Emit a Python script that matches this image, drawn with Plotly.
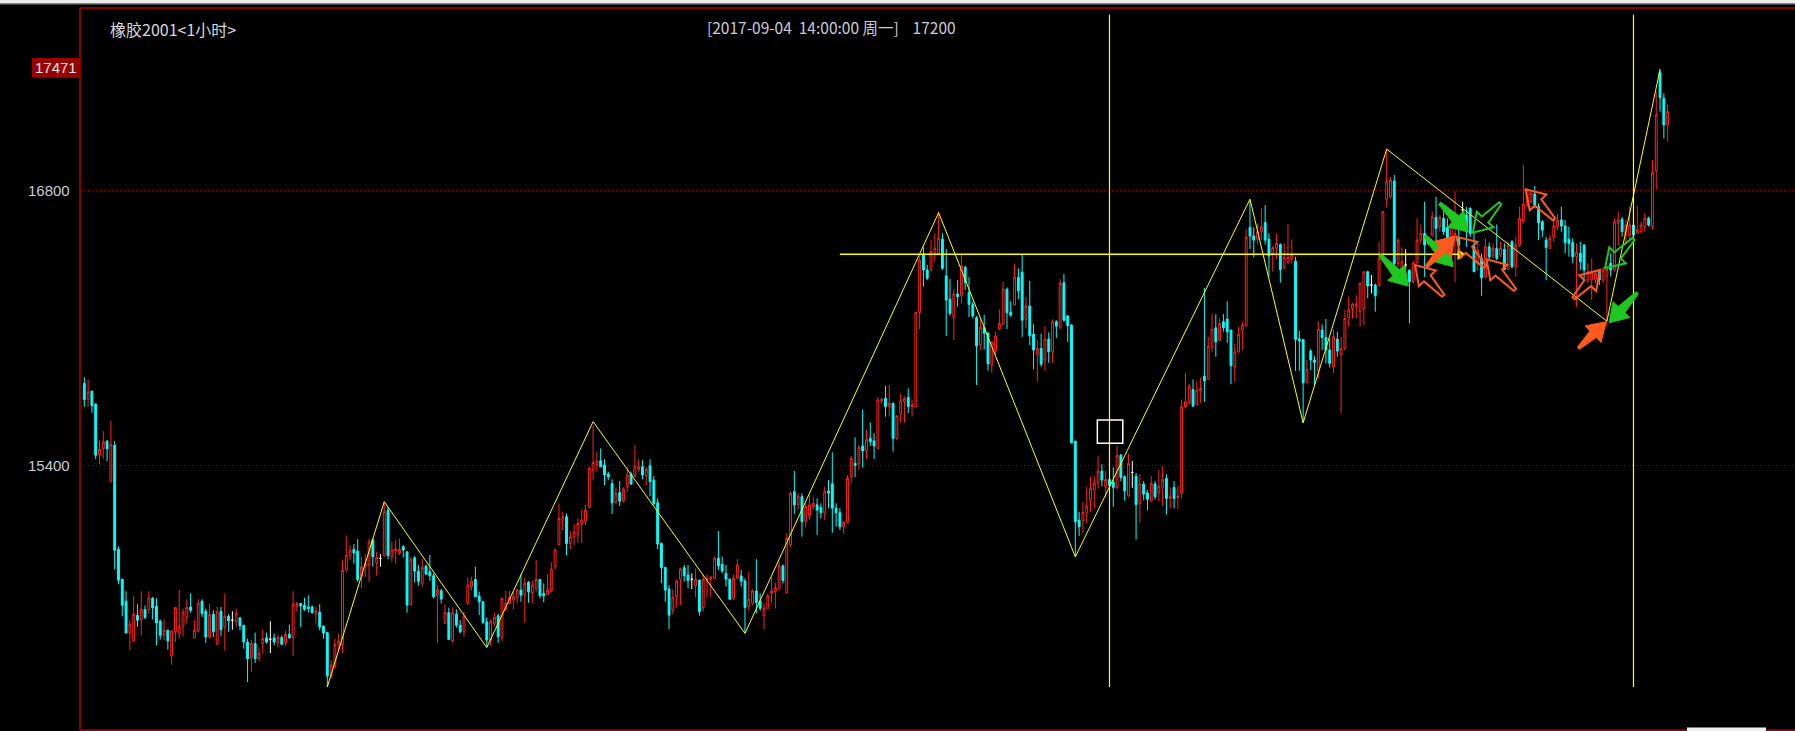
import plotly.graph_objects as go

# ---------------- data (hourly OHLC) ----------------
OPEN = [
15816,15734,15777,15711,15450,15483,15522,15320,15501,14971,
14818,14706,14544,14504,14634,14613,14664,14664,14721,14680,
14604,14532,14558,14427,14550,14541,14580,14626,14677,14519,
14553,14706,14655,14524,14640,14487,14655,14575,14629,14609,
14600,14621,14583,14497,14417,14490,14413,14490,14519,14512,
14519,14493,14521,14493,14538,14519,14681,14694,14686,14677,
14677,14640,14650,14578,14546,14328,14371,14482,14485,14864,
14940,14970,14961,14833,14884,14890,15018,14902,14924,14941,
15170,14933,14963,14950,14984,14958,14686,14927,14859,14797,
14885,14856,14836,14734,14759,14593,14647,14504,14640,14584,
14550,14695,14780,14817,14732,14703,14601,14508,14593,14632,
14520,14661,14695,14715,14724,14763,14737,14802,14749,14771,
14817,14746,14741,14758,14882,14995,15119,15136,15000,15034,
15048,15099,15114,15184,15371,15400,15422,15400,15354,15306,
15210,15260,15218,15289,15354,15344,15378,15391,15344,15396,
15323,15208,15000,14878,14768,14661,14729,14818,14877,14840,
14818,14785,14814,14675,14814,14818,14823,14925,14894,14848,
14818,14721,14823,14835,14809,14681,14695,14758,14707,14632,
14670,14746,14755,14772,14886,14750,14993,15264,15197,15239,
15115,15140,15188,15197,15183,15154,15268,15304,15180,15157,
15086,15106,15341,15409,15406,15497,15473,15536,15523,15485,
15728,15740,15698,15715,15536,15660,15723,15745,15698,15698,
16177,16471,16394,16394,16479,16479,16551,16364,16245,16151,
16272,16262,16408,16279,16219,16151,16012,16100,16071,15909,
15982,16093,16118,16296,16179,16215,16356,16383,16142,16210,
16067,15960,15994,15935,16042,15977,16130,16104,16329,16159,
16113,15522,15119,15116,15156,15224,15272,15309,15369,15289,
15326,15314,15286,15450,15340,15243,15362,15343,15204,15303,
15258,15218,15303,15258,15286,15331,15230,15286,15235,15255,
15697,15717,15785,15709,15778,15853,15838,16003,16099,16037,
16130,16144,16087,15901,15977,16087,16110,16611,16568,16550,
16589,16636,16550,16478,16504,16524,16407,16432,16448,16439,
16043,16040,15819,15981,15935,15880,16088,16050,15986,15901,
16042,15964,15994,16152,16198,16210,16181,16198,16385,16317,
16317,16317,16470,16754,16767,16847,16427,16402,16419,16393,
16334,16431,16546,16580,16546,16572,16662,16614,16657,16611,
16563,16563,16555,16700,16674,16708,16512,16427,16453,16359,
16512,16465,16504,16470,16499,16397,16538,16410,16521,16640,
16725,16742,16781,16716,16640,16546,16504,16560,16614,16649,
16618,16550,16533,16462,16479,16521,16343,16343,16343,16385,
16343,16360,16428,16394,16632,16652,16572,16572,16623,16581,
16589,16615,16657,16615,16900,17399,17269,17133]

HIGH = [
15847,15836,15777,15711,15527,15573,15527,15624,15522,14986,
14818,14757,14609,14731,14691,14757,14685,14757,14728,14721,
14613,14613,14562,14555,14677,14765,14668,14716,14745,14609,
14716,14716,14668,14694,14660,14677,14677,14745,14640,14655,
14668,14626,14583,14515,14510,14546,14470,14561,14546,14604,
14541,14536,14532,14555,14587,14757,14703,14698,14723,14736,
14685,14677,14691,14583,14550,14405,14515,14541,14915,15042,
14991,14997,15022,14932,14946,15025,15026,14958,14946,15213,
15187,15009,15018,15026,14992,14958,14933,14936,14890,14921,
14893,14941,14848,14788,14770,14690,14673,14674,14664,14610,
14652,14827,14831,14882,14754,14708,14623,14613,14647,14644,
14724,14759,14759,14754,14771,14844,14827,14809,14810,14916,
14817,14797,14844,14904,14975,15204,15162,15153,15063,15099,
15128,15174,15196,15391,15600,15468,15485,15430,15366,15328,
15284,15318,15286,15388,15366,15502,15430,15425,15391,15430,
15344,15230,15006,14882,14788,14768,14817,14877,14891,14891,
14848,14874,14814,14840,14840,14835,14933,15064,14933,14891,
14823,14840,14920,14865,14823,14857,14767,14920,14746,14695,
14746,14828,14801,14908,14894,15052,15264,15370,15256,15256,
15210,15247,15239,15230,15205,15290,15324,15465,15205,15180,
15115,15349,15446,15541,15502,15684,15582,15618,15562,15745,
15745,15803,15808,15718,15655,15762,15749,15791,15735,16182,
16462,16510,16420,16547,16581,16692,16581,16500,16347,16296,
16343,16471,16415,16357,16233,16160,16143,16165,16080,16028,
16079,16193,16334,16305,16235,16427,16402,16470,16257,16339,
16118,16037,16070,16108,16076,16142,16138,16347,16373,16164,
16118,15522,15162,15212,15289,15340,15343,15445,15404,15369,
15404,15388,15496,15456,15348,15456,15420,15360,15354,15318,
15272,15343,15318,15374,15394,15353,15286,15318,15292,15734,
15870,15812,15836,15828,15846,16303,16053,16169,16169,16147,
16169,16235,16091,16020,16104,16130,16602,16747,16611,16631,
16708,16725,16580,16516,16580,16529,16529,16628,16550,16461,
16083,16040,15935,15991,15955,16133,16116,16144,16045,16091,
16079,16054,16190,16258,16227,16266,16325,16385,16390,16368,
16325,16538,16694,17010,16869,16878,16555,16509,16500,16397,
16439,16657,16626,16742,16555,16691,16767,16674,16708,16657,
16691,16793,16657,16742,16716,16713,16589,16533,16478,16555,
16533,16529,16626,16538,16529,16538,16546,16563,16716,16929,
16810,16801,16822,16733,16648,16563,16572,16648,16682,16717,
16649,16615,16555,16530,16538,16525,16428,16453,16394,16394,
16411,16419,16479,16657,16691,16665,16649,16717,16725,16720,
16640,16683,16666,16954,17303,17416,17294,17238]

LOW = [
15697,15697,15666,15430,15403,15430,15420,15309,14869,14793,
14629,14544,14456,14504,14575,14532,14613,14640,14613,14481,
14510,14507,14459,14383,14498,14515,14527,14592,14648,14519,
14550,14626,14493,14515,14524,14482,14527,14453,14550,14561,
14575,14558,14464,14294,14345,14391,14402,14439,14490,14442,
14482,14470,14482,14477,14515,14427,14652,14575,14657,14648,
14643,14592,14558,14515,14269,14311,14362,14456,14442,14855,
14915,14898,14804,14774,14830,14804,14882,14836,14882,14933,
14921,14907,14895,14941,14928,14647,14686,14802,14785,14780,
14842,14810,14720,14494,14695,14589,14508,14494,14572,14542,
14525,14686,14759,14729,14635,14589,14470,14479,14576,14494,
14504,14661,14691,14664,14695,14703,14596,14698,14695,14754,
14720,14700,14737,14749,14868,14989,15069,14941,14972,14992,
15004,15004,15094,15184,15323,15366,15391,15298,15323,15150,
15199,15191,15208,15264,15298,15337,15366,15328,15298,15243,
15196,14972,14797,14703,14564,14639,14674,14687,14806,14772,
14767,14726,14632,14653,14726,14726,14818,14865,14848,14780,
14712,14712,14818,14780,14542,14658,14687,14644,14658,14563,
14665,14695,14670,14763,14797,14746,14984,15151,15171,15035,
15081,15120,15171,15043,15128,15120,15180,15055,15086,15069,
15048,15103,15307,15337,15375,15387,15431,15497,15431,15480,
15711,15647,15647,15468,15528,15616,15616,15664,15647,15693,
16092,16309,16343,16386,16437,16471,16394,16058,16160,16037,
16207,16224,16292,16153,16148,15808,15987,15990,15881,15870,
15960,16087,16113,16093,16155,16215,16245,16053,16096,16011,
15889,15827,15901,15880,15921,15921,16048,16091,16130,16028,
15510,14932,15038,15054,15102,15161,15178,15280,15292,15238,
15187,15187,15275,15318,15218,15238,15284,15020,15105,15221,
15170,15212,15224,15216,15190,15148,15179,15179,15173,15230,
15688,15710,15700,15705,15717,15722,15833,15977,15952,16028,
16079,16023,15812,15824,15972,15986,16104,16500,16458,16524,
16546,16524,16359,16385,16448,16329,16397,16427,16427,15880,
15880,15615,15816,15884,15807,15841,15986,15918,15897,15870,
15952,15663,15986,16105,16147,16147,16105,16113,16249,16275,
16181,16308,16461,16713,16759,16410,16410,16397,16393,16122,
16325,16427,16529,16359,16521,16563,16521,16589,16572,16512,
16546,16331,16512,16600,16512,16563,16385,16390,16263,16351,
16444,16453,16444,16461,16393,16393,16402,16359,16512,16631,
16716,16733,16708,16546,16563,16342,16504,16538,16597,16589,
16479,16462,16428,16207,16394,16351,16326,16241,16326,16317,
16326,16105,16360,16385,16521,16564,16530,16547,16555,16577,
16581,16589,16615,16598,16805,17201,17065,17048]

CLOSE = [
15734,15773,15702,15450,15479,15517,15483,15505,14966,14813,
14685,14544,14587,14640,14609,14665,14623,14721,14672,14595,
14532,14558,14504,14555,14674,14578,14650,14674,14660,14558,
14694,14643,14524,14638,14550,14652,14561,14629,14606,14609,
14643,14580,14498,14413,14490,14413,14439,14515,14498,14512,
14498,14521,14487,14536,14519,14689,14694,14681,14665,14669,
14648,14657,14575,14544,14325,14380,14485,14502,14864,14940,
14963,14952,14816,14881,14898,15008,14933,14929,14924,15162,
14938,14967,14972,14970,14967,14686,14919,14859,14808,14878,
14844,14836,14729,14763,14717,14649,14511,14647,14584,14550,
14627,14788,14809,14729,14703,14598,14508,14601,14623,14525,
14720,14695,14724,14729,14763,14737,14797,14754,14788,14817,
14734,14734,14763,14870,14967,15128,15136,15000,15034,15057,
15102,15119,15170,15383,15413,15420,15391,15349,15340,15208,
15255,15216,15277,15349,15303,15391,15391,15349,15378,15315,
15204,14997,14877,14763,14635,14724,14808,14870,14836,14811,
14818,14818,14653,14818,14822,14828,14925,14886,14860,14818,
14716,14823,14891,14809,14675,14716,14758,14700,14670,14670,
14733,14758,14775,14887,14811,15026,15256,15197,15239,15111,
15188,15197,15205,15171,15157,15264,15256,15180,15157,15086,
15108,15332,15434,15397,15490,15472,15531,15519,15497,15732,
15735,15698,15715,15536,15650,15727,15738,15698,15706,16177,
16445,16394,16352,16488,16505,16556,16403,16241,16173,16272,
16258,16415,16330,16219,16160,16007,16102,16071,15915,16028,
16057,16121,16295,16176,16164,16356,16288,16138,16210,16059,
15986,15994,15914,16040,15977,16130,16108,16325,16138,16110,
15513,15111,15085,15158,15190,15280,15309,15369,15323,15326,
15297,15286,15449,15337,15269,15408,15362,15199,15303,15252,
15226,15306,15238,15292,15326,15230,15241,15230,15241,15697,
15722,15802,15700,15782,15790,15829,16006,16091,16028,16121,
16099,16079,15906,15977,16067,16113,16560,16567,16546,16589,
16614,16546,16465,16507,16529,16397,16458,16458,16470,16040,
16033,15819,15887,15935,15923,16091,16050,15986,15918,16054,
15981,15994,16147,16190,16220,16220,16325,16385,16312,16317,
16263,16453,16691,16847,16852,16427,16546,16436,16419,16334,
16431,16546,16580,16521,16529,16665,16606,16662,16589,16529,
16626,16580,16521,16700,16589,16580,16385,16495,16354,16512,
16461,16504,16453,16504,16397,16521,16410,16521,16657,16730,
16801,16784,16725,16635,16597,16509,16555,16618,16648,16618,
16533,16530,16462,16482,16436,16394,16385,16380,16377,16343,
16394,16397,16394,16640,16649,16589,16623,16623,16572,16598,
16623,16657,16623,16890,17184,17272,17133,17201]

# zig-zag pivots (bar index, price)
ZZ_IDX = [64, 79, 106, 134, 174, 225, 261, 307, 321, 343, 401, 415]
ZZ_PRICE = [14269, 15213, 14470, 15621, 14542, 16686, 14932, 16755, 15615, 17010, 16133, 17416]

# horizontal level with arrow, vertical markers, small box
HLINE_PRICE = 16474
HLINE_FROM, HLINE_TO = 199, 363.5
VLINE_IDX = [270, 408]
VLINE_TOP = 17694
BOX_X = [266.8, 273.5]
BOX_Y = [15511, 15630]

# hand-drawn arrows: tail -> tip (bar index, price)
ARROW_TAIL_X = [341.3, 357.9, 353.1, 353.5, 357.0, 372.9, 368.9, 376.8, 387.1, 392.2, 408.0, 393.5, 409.0]
ARROW_TAIL_Y = [16470, 16263, 16567, 16411, 16734, 16734, 16411, 16292, 16652, 16250, 16552, 15995, 16278]
ARROW_TIP_X = [348.7, 350.5, 360.5, 361.0, 364.5, 365.7, 361.4, 369.3, 379.6, 399.2, 400.5, 400.8, 401.6]
ARROW_TIP_Y = [16312, 16419, 16411, 16567, 16589, 16584, 16563, 16448, 16805, 16394, 16403, 16130, 16125]
ARROW_KIND = ['g', 'o', 'g', 'o', 'g', 'g', 'o', 'o', 'o', 'o', 'g', 'o', 'g']
ARROW_FILLED = [1, 0, 1, 1, 1, 0, 0, 0, 0, 0, 0, 1, 1]

GRID_PRICES = [16800, 15400]
TOP_LABEL = "17471"
TITLE = "橡胶2001<1小时>"
INFO = "[2017-09-04\u00a0\u00a014:00:00 周一]\u00a0\u00a0\u00a0\u00a017200"

N = len(OPEN)
assert len(HIGH) == N and len(LOW) == N and len(CLOSE) == N, (len(OPEN), len(HIGH), len(LOW), len(CLOSE))

# ---------------- geometry / style ----------------
W, H = 1795, 731
ML, MR, MT, MB = 80, 0, 8, 1
X_RANGE = [-1.132, 450.54]
Y_RANGE = [14049.7, 17729.0]
PW, PH = W - ML - MR, H - MT - MB
SX = PW / (X_RANGE[1] - X_RANGE[0])
SY = PH / (Y_RANGE[1] - Y_RANGE[0])

UP = '#ff2020'
DOWN = '#00ffff'
YEL = '#ffff00'
FRAME = '#b00000'
COLORS = {'g': '#1ec81e', 'o': '#ff5a1e'}
NUMFONT = 'Liberation Sans, Arial, sans-serif'
CJKFONT = 'Noto Sans CJK SC, Liberation Sans, sans-serif'


def pxx(px):
    return (px - ML) / PW


def pxy(py):
    return (H - MB - py) / PH


fig = go.Figure()

body = [i for i in range(N) if OPEN[i] != CLOSE[i]]
doji = [i for i in range(N) if OPEN[i] == CLOSE[i]]

fig.add_trace(go.Candlestick(
    x=body,
    open=[OPEN[i] for i in body], high=[HIGH[i] for i in body],
    low=[LOW[i] for i in body], close=[CLOSE[i] for i in body],
    increasing=dict(line=dict(color=UP, width=1), fillcolor='#000000'),
    decreasing=dict(line=dict(color=DOWN, width=1), fillcolor=DOWN),
    hoverinfo='skip', showlegend=False))

fig.add_trace(go.Candlestick(
    x=doji,
    open=[OPEN[i] for i in doji], high=[HIGH[i] for i in doji],
    low=[LOW[i] for i in doji], close=[CLOSE[i] for i in doji],
    increasing=dict(line=dict(color='#ffffff', width=1), fillcolor='#ffffff'),
    decreasing=dict(line=dict(color='#ffffff', width=1), fillcolor='#ffffff'),
    hoverinfo='skip', showlegend=False))

# zig-zag
fig.add_trace(go.Scatter(x=ZZ_IDX, y=ZZ_PRICE, mode='lines',
                         line=dict(color=YEL, width=1), hoverinfo='skip', showlegend=False))

# horizontal level + arrow head
fig.add_trace(go.Scatter(x=[HLINE_FROM, HLINE_TO], y=[HLINE_PRICE, HLINE_PRICE], mode='lines',
                         line=dict(color=YEL, width=1.3), hoverinfo='skip', showlegend=False))
fig.add_trace(go.Scatter(x=[HLINE_TO - 4.5 / SX], y=[HLINE_PRICE], mode='markers',
                         marker=dict(symbol='triangle-right', size=10, color=YEL, line=dict(width=0)),
                         hoverinfo='skip', showlegend=False))

# vertical markers
for v in VLINE_IDX:
    fig.add_trace(go.Scatter(x=[v, v], y=[min(LOW), VLINE_TOP], mode='lines',
                             line=dict(color=YEL, width=1.2), hoverinfo='skip', showlegend=False))

shapes = []
# white box
shapes.append(dict(type='rect', xref='x', yref='y', x0=BOX_X[0], x1=BOX_X[1], y0=BOX_Y[0], y1=BOX_Y[1],
                   line=dict(color='#ffffff', width=1.5), fillcolor='rgba(0,0,0,0)'))


def arrow_path(ti, tp, hi, hp):
    tx, ty = ti * SX, tp * SY
    hx, hy = hi * SX, hp * SY
    dx, dy = hx - tx, hy - ty
    L = (dx * dx + dy * dy) ** 0.5
    ux, uy = dx / L, dy / L
    nx, ny = -uy, ux
    HL, HW, SW0, SW1 = 18.0, 11.5, 1.5, 4.5
    bx, by = hx - ux * HL, hy - uy * HL
    pts = [(tx + nx * SW0, ty + ny * SW0), (bx + nx * SW1, by + ny * SW1), (bx + nx * HW, by + ny * HW),
           (hx, hy), (bx - nx * HW, by - ny * HW), (bx - nx * SW1, by - ny * SW1), (tx - nx * SW0, ty - ny * SW0)]
    return 'M ' + ' L '.join('%.4f,%.4f' % (x / SX, y / SY) for x, y in pts) + ' Z'


for k in range(len(ARROW_TAIL_X)):
    col = COLORS[ARROW_KIND[k]]
    p = arrow_path(ARROW_TAIL_X[k], ARROW_TAIL_Y[k], ARROW_TIP_X[k], ARROW_TIP_Y[k])
    if ARROW_FILLED[k]:
        shapes.append(dict(type='path', xref='x', yref='y', path=p, fillcolor=col, line=dict(color=col, width=1)))
    else:
        shapes.append(dict(type='path', xref='x', yref='y', path=p, fillcolor='rgba(0,0,0,0)',
                           line=dict(color=col, width=2)))

# window chrome & frame
shapes.append(dict(type='rect', xref='paper', yref='paper', x0=pxx(0), x1=1, y0=pxy(3.5), y1=pxy(-1),
                   fillcolor='#ececec', line=dict(width=0), layer='above'))
shapes.append(dict(type='line', xref='paper', yref='paper', x0=pxx(0), x1=1, y0=pxy(4), y1=pxy(4),
                   line=dict(color='#8a8a8a', width=1)))
shapes.append(dict(type='line', xref='paper', yref='paper', x0=0, x1=1, y0=1, y1=1,
                   line=dict(color=FRAME, width=1.5)))
shapes.append(dict(type='line', xref='paper', yref='paper', x0=0, x1=0, y0=0, y1=1,
                   line=dict(color=FRAME, width=1.5)))
shapes.append(dict(type='line', xref='paper', yref='paper', x0=0, x1=1, y0=0, y1=0,
                   line=dict(color=FRAME, width=1.5)))
shapes.append(dict(type='rect', xref='paper', yref='paper', x0=pxx(1687), x1=pxx(1766), y0=pxy(731.5), y1=pxy(727.5),
                   fillcolor='#f0f0f0', line=dict(width=0)))
# top price tag background
shapes.append(dict(type='rect', xref='paper', yref='paper', x0=pxx(32), x1=pxx(80), y0=pxy(77.7), y1=pxy(58),
                   fillcolor='#990000', line=dict(width=0)))

annotations = [
    dict(xref='paper', yref='paper', x=pxx(108), y=pxy(29), xanchor='left', yanchor='middle',
         text=TITLE, showarrow=False, font=dict(family=CJKFONT, size=16, color='#d8d8d8')),
    dict(xref='paper', yref='paper', x=pxx(831.5), y=pxy(27), xanchor='center', yanchor='middle',
         text=INFO, showarrow=False, font=dict(family=CJKFONT, size=15.5, color='#c8ccd8')),
    dict(xref='paper', yref='paper', x=pxx(56), y=pxy(67.8), xanchor='center', yanchor='middle',
         text=TOP_LABEL, showarrow=False, font=dict(family=NUMFONT, size=15, color='#e8e8e8')),
]
for gp in GRID_PRICES:
    annotations.append(dict(xref='paper', yref='y', x=0, y=gp, xanchor='right', yanchor='middle', xshift=-8,
                            text=str(gp), showarrow=False, font=dict(family=NUMFONT, size=15, color='#c8ccd4')))

fig.update_layout(
    width=W, height=H, autosize=False,
    margin=dict(l=ML, r=MR, t=MT, b=MB, pad=0),
    paper_bgcolor='#000000', plot_bgcolor='#000000',
    showlegend=False, hovermode=False,
    xaxis=dict(range=X_RANGE, visible=False, rangeslider=dict(visible=False), fixedrange=True),
    yaxis=dict(range=Y_RANGE, tickvals=GRID_PRICES, showticklabels=False, ticks='',
               showgrid=True, gridcolor='#a00000', griddash='1px,3px', gridwidth=1,
               zeroline=False, showline=False, fixedrange=True),
    shapes=shapes, annotations=annotations,
)

fig.write_html("out.html", config={'displayModeBar': False},
               post_script="document.body.style.margin='0';document.body.style.padding='0';"
                           "document.body.style.background='#000';")
